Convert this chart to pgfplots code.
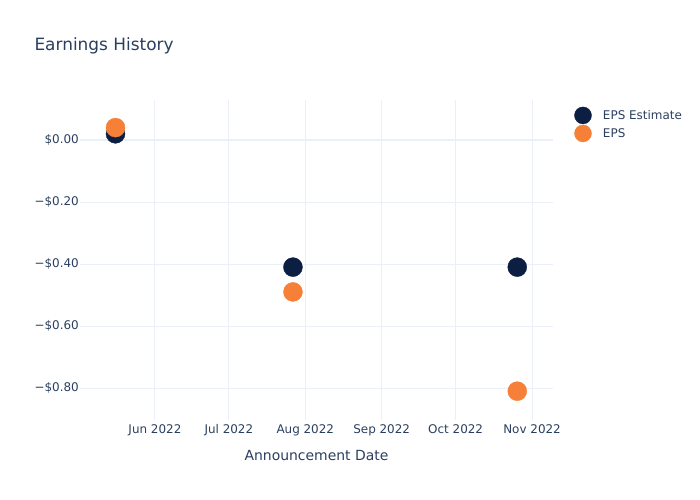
\documentclass[border=0pt]{standalone}
\usepackage{pgfplots}
\pgfplotsset{compat=1.18}
\usepackage{fontspec}
\setmainfont{DejaVu Sans}
\definecolor{navy}{RGB}{12,31,66}
\definecolor{orng}{RGB}{246,128,56}
\definecolor{gridc}{RGB}{235,240,248}
\definecolor{txt}{RGB}{42,63,95}
\begin{document}
\begin{tikzpicture}
\path[use as bounding box] (-80bp,-80bp) rectangle (620bp,420bp);
\begin{axis}[
  scale only axis,
  width=473bp, height=320bp,
  xmin=-30.4, xmax=161.5,
  ymin=-0.903, ymax=0.129,
  axis line style={draw=none},
  major tick length=0pt,
  xtick={0,30,61,92,122,153},
  xticklabels={Jun 2022,Jul 2022,Aug 2022,Sep 2022,Oct 2022,Nov 2022},
  ytick={-0.8,-0.6,-0.4,-0.2,0},
  yticklabels={−\$0.80,−\$0.60,−\$0.40,−\$0.20,\$0.00},
  grid=major,
  major grid style={color=gridc, line width=1bp},
  tick label style={font=\fontsize{12}{14}\selectfont, text=txt},
  yticklabel style={inner sep=1bp},
  xticklabel style={inner sep=4bp},
  xlabel={Announcement Date},
  xlabel style={at={(0.5,-0.1125)}, anchor=center, font=\fontsize{14}{16}\selectfont, text=txt},
  legend style={draw=none, fill=none, at={(1.045,0.979)}, anchor=north west,
    font=\fontsize{12}{14}\selectfont, text=txt, inner sep=0pt, row sep=1bp,
    nodes={inner sep=2bp}},
  legend cell align=left,
  legend image code/.code={\path[draw=none, fill=none] (-8.5bp,0) rectangle (18bp,0);\draw[#1, mark size=8.5bp] plot coordinates {(0bp,0bp)};},
]
\addplot[forget plot, color=gridc, line width=2bp] coordinates {(-30.4,0) (161.5,0)};
\addplot[only marks, mark=*, mark size=9.5bp, color=navy, mark options={fill=navy, draw=navy}]
  coordinates {(-16,0.02) (56,-0.41) (147,-0.41)};
\addlegendentry{EPS Estimate}
\addplot[only marks, mark=*, mark size=9.5bp, color=orng, mark options={fill=orng, draw=orng}]
  coordinates {(-16,0.04) (56,-0.49) (147,-0.81)};
\addlegendentry{EPS}
\end{axis}
\node[anchor=west, font=\fontsize{17}{20}\selectfont, text=txt] at (-49bp,374bp) {Earnings History};
\end{tikzpicture}
\end{document}
